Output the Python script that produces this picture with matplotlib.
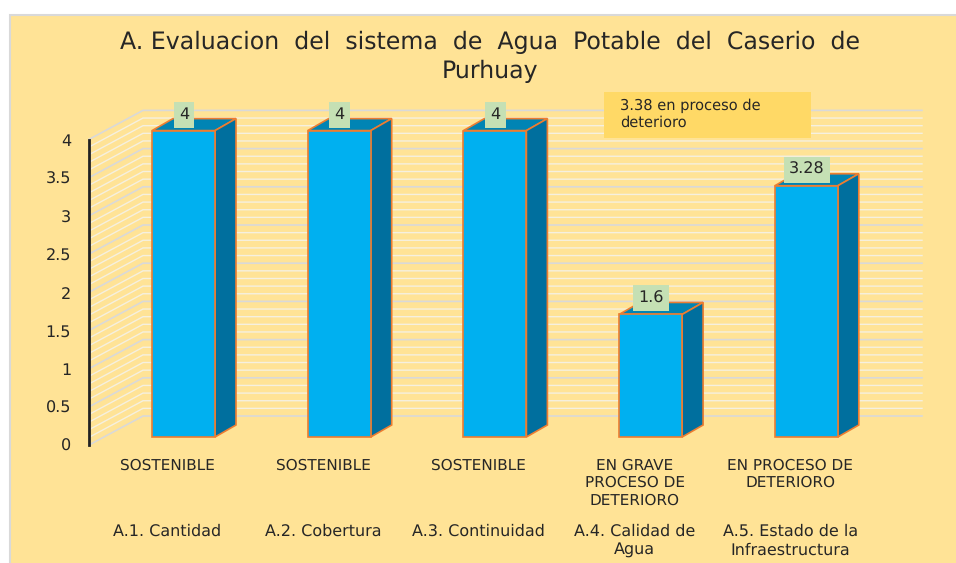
import matplotlib
matplotlib.use('Agg')
from matplotlib import pyplot as plt
from matplotlib.patches import Polygon, Rectangle
import numpy as np

title = 'A. Evaluacion  del  sistema  de  Agua  Potable  del  Caserio  de\nPurhuay'
values = [4, 4, 4, 1.6, 3.28]
value_labels = ['4', '4', '4', '1.6', '3.28']
status = ['SOSTENIBLE', 'SOSTENIBLE', 'SOSTENIBLE', 'EN GRAVE\nPROCESO DE\nDETERIORO', 'EN PROCESO DE\nDETERIORO']
categories = ['A.1. Cantidad', 'A.2. Cobertura', 'A.3. Continuidad', 'A.4. Calidad de\nAgua', 'A.5. Estado de la\nInfraestructura']
y_ticks = [0, 0.5, 1, 1.5, 2, 2.5, 3, 3.5, 4]
y_tick_labels = ['0', '0.5', '1', '1.5', '2', '2.5', '3', '3.5', '4']
note = '3.38 en proceso de\ndeterioro'

W, H = 956, 563
BG = '#FFE396'
TEXT = '#262626'
EDGE = '#ED7D31'
FRONT = '#00B0F0'
TOP = '#0084B4'
SIDE = '#006F9E'

plt.rcParams['font.family'] = 'DejaVu Sans'
plt.rcParams['text.hinting'] = 'none'


def px_axes(fig, left, top, right, bottom):
    return fig.add_axes([left / W, 1 - bottom / H, (right - left) / W, (bottom - top) / H])


fig = plt.figure(figsize=(W / 100, H / 100), dpi=100, facecolor='white')

# main axes spans the whole figure, x = category index, y = value of front face
ax = fig.add_axes([0, 0, 1, 1])
px_x = 155.7
px_y = 76.6
x0 = 183.5
y0 = 437
ax.set_xlim((0 - x0) / px_x, (W - x0) / px_x)
ax.set_ylim((y0 - H) / px_y, y0 / px_y)
ax.axis('off')

# panel runs off the right and bottom edges of the picture
ax.add_patch(Rectangle((10 / W, -0.1), 1.1, 1.1 - 15 / H, transform=ax.transAxes, facecolor=BG,
                       edgecolor='#D9D9D9', lw=1.5, zorder=0))


def dx(p):
    return p / px_x


def dy(p):
    return p / px_y


# walls: back wall gridlines and the slanted left wall
wall_left = (143 - x0) / px_x
wall_right = (922 - x0) / px_x
side_left = (89 - x0) / px_x
wall_base = (y0 - 416) / px_y
side_base = (y0 - 445) / px_y
wall_scale = 76.4 / px_y
for v in np.arange(0, 4.01, 0.1):
    major = abs(v * 2 - round(v * 2)) < 1e-6
    color = '#D9D9D9' if major else '#F5F0E0'
    lw = 1.2 if major else 1.0
    ax.plot([side_left, wall_left, wall_right],
            [side_base + v * wall_scale, wall_base + v * wall_scale, wall_base + v * wall_scale],
            color=color, lw=lw, zorder=1, solid_joinstyle='miter')

# bars with oblique top and side faces
bar_w = 63 / px_x
depth_x = dx(21)
depth_y = dy(12)
xs = np.arange(len(values))
ax.bar(xs, values, width=bar_w, color=FRONT, edgecolor=EDGE, linewidth=1.2, zorder=3)
for x, v in zip(xs, values):
    r = x + bar_w / 2
    l = x - bar_w / 2
    ax.add_patch(Polygon([(l, v), (r, v), (r + depth_x, v + depth_y), (l + depth_x, v + depth_y)],
                         closed=True, facecolor=TOP, edgecolor=EDGE, lw=1.2, zorder=2.9))
    ax.add_patch(Polygon([(r, 0), (r + depth_x, depth_y), (r + depth_x, v + depth_y), (r, v)],
                         closed=True, facecolor=SIDE, edgecolor=EDGE, lw=1.2, zorder=2.9))

# value labels
for x, v, lab in zip(xs, values, value_labels):
    ax.text(x + dx(0.5), v + dy(16), lab, ha='center', va='center', fontsize=11.5, color=TEXT, zorder=5,
            bbox=dict(boxstyle='square,pad=0.33', facecolor='#C5E0B4', edgecolor='none'))

# category and status labels
for x, s, c in zip(xs, status, categories):
    ax.text(x - dx(16), dy(y0 - 458), s, ha='center', va='top', fontsize=11, color=TEXT, linespacing=1.29, zorder=5)
    ax.text(x - dx(16), dy(y0 - 524), c, ha='center', va='top', fontsize=11.5, color=TEXT, linespacing=1.25, zorder=5)

ax.text(490 / W, 1 - 57 / H, title, transform=ax.transAxes, ha='center', va='center', fontsize=17,
        color=TEXT, linespacing=1.33, zorder=5)

# note box
ax.add_patch(Rectangle((604 / W, 1 - 138 / H), 207 / W, 46 / H, transform=ax.transAxes,
                       facecolor='#FFD966', edgecolor='none', zorder=4))
ax.text(620 / W, 1 - 114 / H, note, transform=ax.transAxes, ha='left', va='center', fontsize=10.5,
        color=TEXT, linespacing=1.17, zorder=5)

# value axis on the front edge of the left wall
ax_y = px_axes(fig, 89, 140, 100, 445)
ax_y.patch.set_alpha(0)
ax_y.set_ylim(0, 4)
ax_y.set_xticks([])
ax_y.set_yticks(y_ticks)
ax_y.set_yticklabels(y_tick_labels, fontsize=11.5, color=TEXT)
ax_y.tick_params(axis='y', length=0, pad=13)
for side in ['top', 'right', 'bottom']:
    ax_y.spines[side].set_visible(False)
ax_y.spines['left'].set_linewidth(2)
ax_y.spines['left'].set_color('#222222')

fig.savefig('out.png', dpi=100)
